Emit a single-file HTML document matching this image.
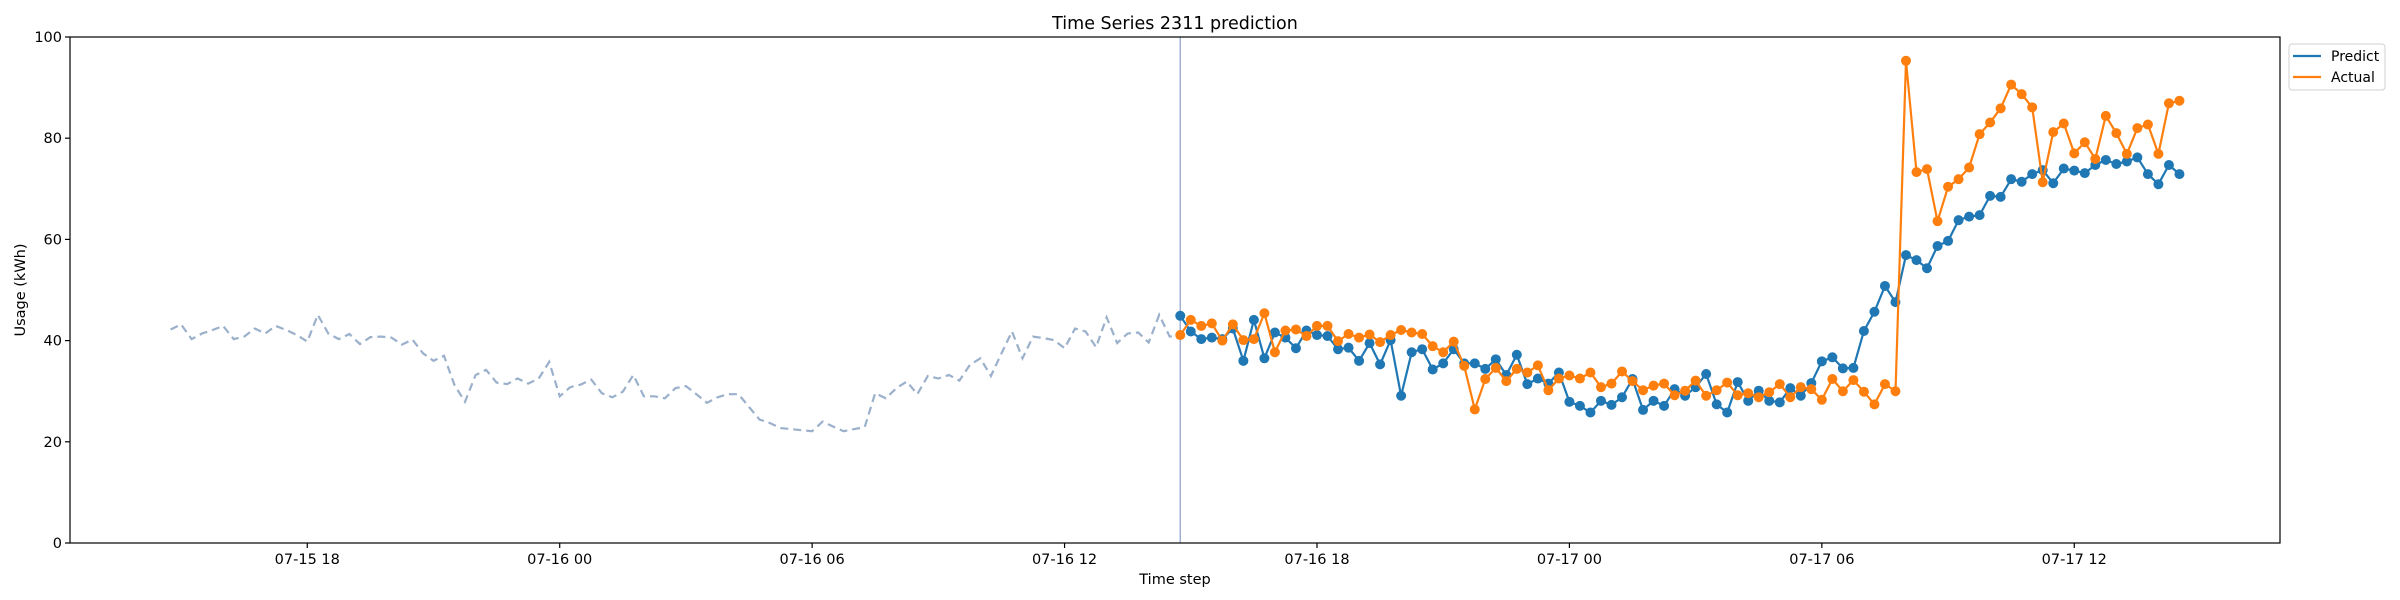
<!DOCTYPE html>
<html><head><meta charset="utf-8"><style>
html,body{margin:0;padding:0;background:#fff;}
svg{display:block;font-family:"DejaVu Sans","Liberation Sans",sans-serif;}
</style></head><body>
<svg id="chart" width="2400" height="600" viewBox="0 0 2400 600" xmlns="http://www.w3.org/2000/svg">
<rect width="2400" height="600" fill="#fff"/>
<text x="1175" y="29" font-size="17.5" text-anchor="middle" fill="#000">Time Series 2311 prediction</text>
<g id="plot"></g>
<text x="1175" y="584" font-size="14.5" text-anchor="middle">Time step</text>
<text x="0" y="0" font-size="14.5" text-anchor="middle" transform="translate(25,290) rotate(-90)">Usage (kWh)</text>
<g>
<rect x="2289" y="44" width="96" height="46" rx="3" fill="#fff" stroke="#d0d0d0" stroke-width="1"/>
<g><line x1="2293" y1="56" x2="2321" y2="56" stroke="#1f77b4" stroke-width="2.2"/><text x="2331" y="61" font-size="14">Predict</text></g>
<g><line x1="2293" y1="77" x2="2321" y2="77" stroke="#ff7f0e" stroke-width="2.2"/><text x="2331" y="82" font-size="14">Actual</text></g>
</g>
</svg>
<script>
// hours relative to 07-16 00:00
const histStartHour = -9.25;
const foreStartHour = 14.75;
const stepHours = 0.25;
const xTickHours = [-6, 0, 6, 12, 18, 24, 30, 36];
const xTickLabels = ["07-15 18","07-16 00","07-16 06","07-16 12","07-16 18","07-17 00","07-17 06","07-17 12"];
const yTicks = [0, 20, 40, 60, 80, 100];
const history = [42.2,43.2,40.3,41.4,42.1,42.9,40.3,40.8,42.4,41.4,42.9,42.1,41.1,39.8,45.1,41.4,40.3,41.3,39.3,40.7,40.8,40.6,39.2,40.2,37.5,36.0,37.0,31.2,27.9,33.2,34.2,31.7,31.4,32.5,31.5,32.5,35.8,29.0,30.8,31.3,32.3,29.6,28.8,29.9,33.2,29.0,29.0,28.6,
30.6,31.0,29.4,27.7,28.8,29.4,29.4,26.9,24.4,23.7,22.7,22.5,22.3,22.1,24.0,23.0,22.1,22.5,22.9,29.6,28.6,30.6,31.9,29.4,33.0,32.5,33.2,32.1,35.2,36.5,33.0,37.5,41.8,36.5,40.8,40.5,40.1,38.5,42.4,41.8,38.7,44.6,39.5,41.4,41.6,39.6,45.1,40.8];
const predict = [44.9,41.8,40.3,40.6,40.3,42.4,36.0,44.1,36.5,41.6,40.6,38.5,42.0,41.1,40.9,38.3,38.6,36.0,39.5,35.3,40.1,29.1,37.7,38.3,34.3,
35.5,38.3,35.5,35.5,34.4,36.3,33.2,37.2,31.4,32.5,31.5,33.7,27.9,27.1,25.8,28.1,27.3,28.8,32.4,26.3,28.1,27.1,30.4,29.1,
30.8,33.4,27.4,25.8,31.8,28.1,30.1,28.1,27.8,30.6,29.1,31.6,35.9,36.7,34.5,34.6,41.9,45.7,50.8,47.6,
56.9,55.9,54.3,58.7,59.7,63.8,64.5,64.8,68.6,68.4,71.9,71.4,72.9,73.7,71.1,74.0,73.6,73.1,74.7,75.7,74.9,75.4,76.2,72.9,70.9,74.7,72.9];
const actual = [41.1,44.1,42.9,43.4,40.0,43.2,40.1,40.3,45.4,37.7,42.0,42.2,40.9,42.9,42.9,39.9,41.3,40.6,41.2,39.7,41.1,42.1,41.6,41.3,38.9,
37.7,39.8,35.0,26.4,32.4,34.6,32.0,34.4,33.7,35.1,30.2,32.5,33.1,32.5,33.7,30.8,31.5,33.9,32.0,30.2,31.1,31.5,29.2,30.1,
32.1,29.1,30.2,31.7,29.2,29.6,28.8,29.8,31.4,28.8,30.8,30.4,28.3,32.4,30.0,32.2,29.9,27.4,31.4,30.0,
95.3,73.3,73.9,63.6,70.4,71.9,74.2,80.8,83.1,85.9,90.6,88.7,86.1,71.3,81.2,82.9,77.0,79.2,75.9,84.4,81.0,76.9,82.0,82.7,76.9,86.9,87.4];

const L=70,R=2280,T=37,B=543;
const hMin=-11.64,hMax=40.89;
function X(h){return L+(h-hMin)/(hMax-hMin)*(R-L);}
function Y(v){return B-(v/100)*(B-T);}
const NS="http://www.w3.org/2000/svg";
const g=document.getElementById('plot');
function mk(tag,attrs,parent){const e=document.createElementNS(NS,tag);for(const k in attrs)e.setAttribute(k,attrs[k]);(parent||g).appendChild(e);return e;}

let hp=history.map((v,i)=>X(histStartHour+i*stepHours).toFixed(1)+","+Y(v).toFixed(1));
hp.push(X(foreStartHour).toFixed(1)+","+Y(actual[0]).toFixed(1));
const hl=mk('polyline',{points:hp.join(' '),fill:'none',stroke:'#9bb0cb','stroke-width':2.2,'stroke-dasharray':'8,5'});



const vx=X(foreStartHour);
const vl=mk('line',{x1:vx,y1:T,x2:vx,y2:B,stroke:'#9fb0d2','stroke-width':1.5});



function series(arr,color,name){
  const pts=arr.map((v,i)=>X(foreStartHour+i*stepHours).toFixed(1)+","+Y(v).toFixed(1));
  const pl=mk('polyline',{points:pts.join(' '),fill:'none',stroke:color,'stroke-width':2.2,'stroke-linejoin':'round'});
  
  
  arr.forEach((v,i)=>{
    const c=mk('circle',{cx:X(foreStartHour+i*stepHours),cy:Y(v),r:5,fill:color});
    
    
  });
}
series(predict,'#1f77b4','predict');
series(actual,'#ff7f0e','actual');

const fr=mk('rect',{x:L,y:T,width:R-L,height:B-T,fill:'none',stroke:'#000','stroke-width':1.2});



xTickHours.forEach((h,i)=>{
  const x=X(h);
  const t=mk('line',{x1:x,y1:B,x2:x,y2:B+5,stroke:'#000','stroke-width':1.2});
  
  
  const tx=mk('text',{x:x,y:B+21,'font-size':14.5,'text-anchor':'middle'});
  tx.textContent=xTickLabels[i];
  
  
});
yTicks.forEach(v=>{
  const y=Y(v);
  const t=mk('line',{x1:L-5,y1:y,x2:L,y2:y,stroke:'#000','stroke-width':1.2});
  
  
  const tx=mk('text',{x:L-8,y:y+5,'font-size':14.5,'text-anchor':'end'});
  tx.textContent=String(v);
  
  
});
</script>
</body></html>
